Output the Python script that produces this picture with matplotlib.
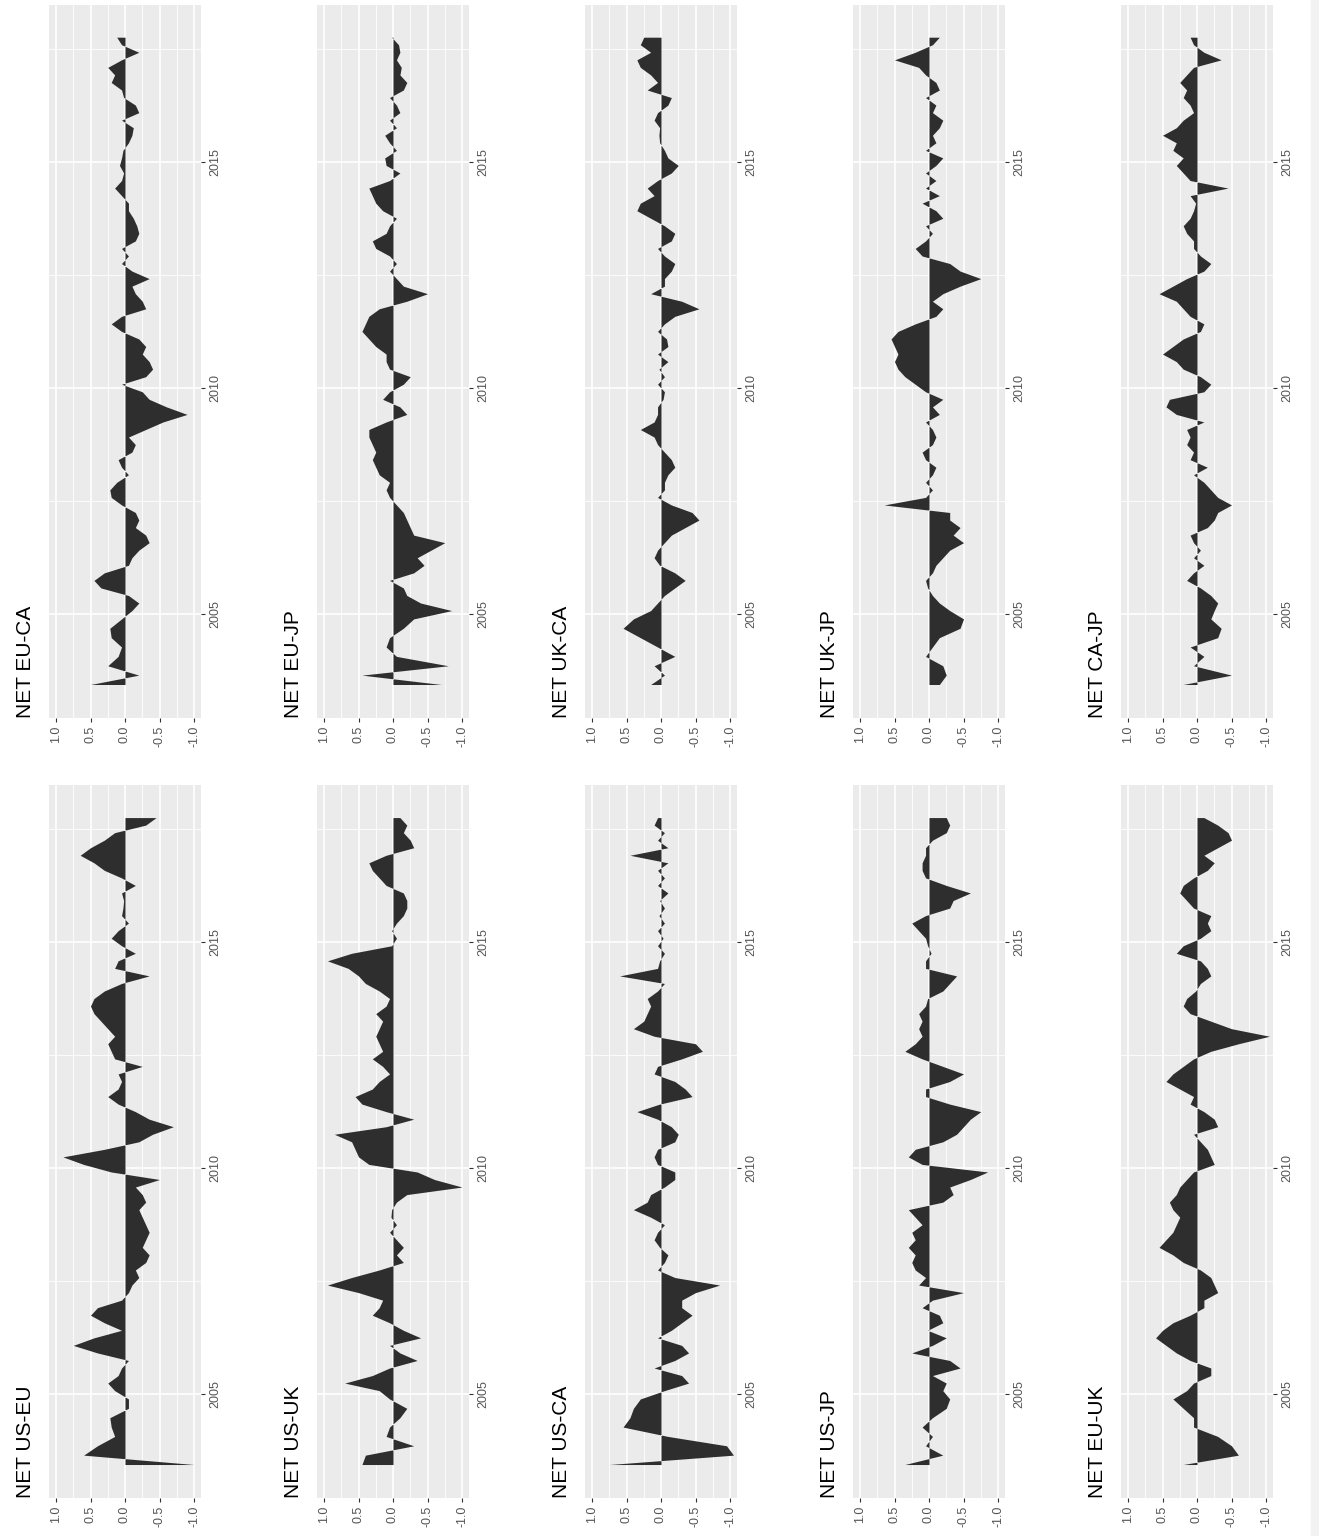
import matplotlib.pyplot as plt
import numpy as np

plt.rcParams['font.family'] = ['Liberation Sans', 'DejaVu Sans']

# time grid: roughly two-month steps from mid 2003 to late 2017
dates = np.concatenate([2003.45 + np.arange(8) * 0.207,
                        2005.0833 + np.arange(77) / 6])

eu_ca = [0.5, -0.2, 0.25, 0.1, 0.05, 0.2, 0.22, 0.05, -0.1, -0.2,
         -0.05, 0.35, 0.45, 0.3, -0.05, -0.1, -0.2, -0.35, -0.3, -0.15,
         -0.2, -0.15, 0.05, 0.2, 0.22, 0.12, -0.05, 0.05, 0.1, -0.1,
         -0.15, -0.05, -0.3, -0.55, -0.9, -0.6, -0.35, -0.25, 0.05, -0.3,
         -0.4, -0.35, -0.25, -0.3, -0.2, 0.05, 0.2, 0.05, -0.3, -0.25,
         -0.15, -0.1, -0.35, -0.1, 0.05, -0.05, 0.05, -0.15, -0.2, -0.17,
         -0.12, -0.05, -0.05, 0.05, 0.15, 0.05, 0.02, 0.08, 0.05, 0.03,
         -0.05, -0.1, -0.12, 0.05, -0.2, -0.15, 0.02, 0.05, 0.2, 0.15,
         0.25, 0.05, -0.2, 0.05, 0.12]
eu_jp = [-0.7, 0.45, -0.8, -0.05, 0.1, 0.05, -0.15, -0.3, -0.85, -0.4,
         -0.2, -0.15, 0.05, -0.3, -0.45, -0.35, -0.55, -0.75, -0.3, -0.25,
         -0.2, -0.15, -0.05, 0.05, 0.1, 0.05, 0.2, 0.25, 0.3, 0.25,
         0.3, 0.35, 0.35, 0.1, -0.2, -0.1, 0.15, 0.05, -0.15, -0.25,
         0.05, 0.1, 0.1, 0.25, 0.35, 0.45, 0.4, 0.35, 0.2, -0.2,
         -0.5, -0.15, -0.05, 0.05, -0.05, 0.05, 0.25, 0.3, 0.1, 0.05,
         -0.05, 0.15, 0.25, 0.3, 0.35, 0.05, -0.1, 0.1, 0.12, -0.05,
         0.05, 0.12, -0.05, 0.05, -0.1, -0.05, 0.05, -0.15, -0.2, -0.1,
         -0.12, -0.05, -0.1, -0.08, 0.02]
uk_ca = [0.15, -0.05, 0.1, -0.2, 0.05, 0.3, 0.55, 0.4, 0.15, 0.05,
         -0.05, -0.2, -0.35, -0.2, 0.02, 0.1, 0.05, -0.05, -0.15, -0.35,
         -0.55, -0.45, -0.15, 0.05, -0.05, -0.05, -0.1, -0.2, -0.15, -0.05,
         0.05, 0.1, 0.3, 0.1, 0.05, 0.05, -0.03, -0.05, 0.05, -0.05,
         0.03, -0.1, 0.05, -0.1, -0.08, 0.05, -0.05, -0.2, -0.55, -0.3,
         0.15, -0.05, -0.05, -0.15, -0.2, -0.05, 0.05, -0.15, -0.2, -0.05,
         0.15, 0.35, 0.3, 0.1, 0.2, 0.05, -0.15, -0.25, -0.1, -0.05,
         0.02, 0.03, 0.02, 0.1, 0.05, -0.1, -0.15, 0.2, 0.05, 0.15,
         0.3, 0.35, 0.15, 0.3, 0.25]
uk_jp = [-0.15, -0.25, -0.2, 0.05, -0.05, -0.15, -0.45, -0.5, -0.3, -0.15,
         -0.05, 0.02, 0.05, -0.05, -0.1, -0.2, -0.3, -0.5, -0.35, -0.45,
         -0.3, -0.3, 0.65, 0.05, -0.05, 0.05, -0.05, -0.1, 0.05, 0.1,
         -0.05, -0.1, -0.05, 0.05, -0.15, -0.05, -0.2, 0.05, 0.2, 0.35,
         0.45, 0.5, 0.45, 0.5, 0.55, 0.45, 0.2, -0.1, -0.2, -0.05,
         -0.2, -0.45, -0.75, -0.45, -0.3, 0.1, 0.2, 0.05, -0.05, 0.05,
         -0.2, -0.1, 0.1, -0.15, 0.05, -0.1, 0.05, -0.1, -0.2, 0.05,
         -0.1, -0.05, -0.15, -0.2, -0.05, -0.1, 0.05, -0.15, -0.1, 0.05,
         0.15, 0.5, 0.2, -0.05, -0.15]
ca_jp = [0.2, -0.5, 0.05, -0.1, 0.1, -0.3, -0.35, -0.2, -0.25, -0.3,
         -0.2, -0.05, 0.15, 0.05, -0.1, 0.05, -0.05, 0.05, 0.1, -0.15,
         -0.25, -0.3, -0.5, -0.3, -0.2, -0.1, 0.05, -0.15, 0.1, 0.05,
         0.15, 0.1, 0.15, -0.1, 0.3, 0.45, 0.4, -0.1, -0.2, -0.05,
         0.2, 0.3, 0.5, 0.35, 0.2, -0.05, -0.1, 0.1, 0.2, 0.3,
         0.55, 0.35, 0.15, -0.1, -0.2, -0.05, 0.05, 0.05, 0.15, 0.2,
         0.1, 0.05, 0.02, 0.1, -0.45, 0.1, 0.2, 0.3, 0.2, 0.35,
         0.3, 0.5, 0.3, 0.2, 0.05, 0.1, 0.2, 0.15, 0.25, 0.15,
         0.05, -0.35, -0.1, 0.05, 0.1]
us_eu = [-1.0, 0.6, 0.4, 0.15, 0.2, 0.22, -0.05, -0.05, 0.15, 0.25,
         0.1, 0.05, -0.05, 0.4, 0.75, 0.45, 0.05, 0.3, 0.5, 0.4,
         0.05, -0.05, -0.1, -0.2, -0.15, -0.3, -0.35, -0.25, -0.3, -0.35,
         -0.3, -0.25, -0.2, -0.3, -0.25, -0.15, -0.5, 0.2, 0.6, 0.9,
         0.3, -0.2, -0.4, -0.7, -0.35, -0.15, 0.1, 0.25, 0.1, 0.05,
         0.1, -0.25, 0.15, 0.2, 0.25, 0.15, 0.25, 0.35, 0.45, 0.5,
         0.45, 0.3, 0.05, -0.35, 0.15, 0.1, -0.15, 0.05, 0.2, 0.1,
         -0.05, 0.05, 0.03, 0.02, 0.05, -0.15, 0.05, 0.3, 0.45, 0.65,
         0.5, 0.3, 0.15, -0.3, -0.45]
us_uk = [0.45, 0.4, -0.3, 0.1, 0.05, -0.1, -0.2, 0.05, 0.2, 0.7,
         0.3, 0.05, -0.35, -0.1, 0.05, -0.4, -0.15, 0.05, 0.3, 0.2,
         0.15, 0.5, 0.95, 0.6, 0.2, -0.15, -0.05, -0.15, -0.05, 0.05,
         -0.05, 0.03, 0.02, -0.05, -0.2, -1.0, -0.6, -0.35, 0.35, 0.5,
         0.55, 0.6, 0.85, 0.1, -0.3, 0.1, 0.45, 0.55, 0.3, 0.2,
         0.05, 0.15, 0.3, 0.15, 0.2, 0.25, 0.2, 0.15, 0.25, 0.1,
         0.05, 0.2, 0.4, 0.5, 0.65, 0.95, 0.6, 0.02, -0.05, 0.02,
         -0.05, -0.15, -0.2, -0.2, -0.15, 0.1, 0.2, 0.3, 0.35, 0.1,
         -0.3, -0.25, -0.15, -0.2, -0.1]
us_ca = [0.75, -1.05, -0.95, -0.1, 0.55, 0.45, 0.4, 0.3, -0.05, -0.4,
         -0.3, 0.1, -0.2, -0.4, -0.3, 0.05, -0.15, -0.3, -0.45, -0.3,
         -0.3, -0.5, -0.85, -0.2, 0.05, -0.05, -0.1, 0.02, 0.1, 0.05,
         -0.05, 0.15, 0.4, 0.2, 0.15, -0.05, -0.2, -0.2, 0.05, 0.1,
         0.05, -0.2, -0.25, -0.15, 0.05, 0.35, 0.02, -0.45, -0.35, -0.2,
         0.1, 0.05, -0.3, -0.6, -0.5, 0.1, 0.4, 0.25, 0.2, 0.15,
         0.2, 0.05, -0.05, 0.6, 0.05, 0.02, -0.05, 0.05, -0.03, 0.05,
         -0.05, 0.03, -0.05, 0.02, -0.1, 0.05, -0.05, 0.05, -0.1, 0.45,
         -0.1, 0.05, -0.05, 0.1, 0.05]
us_jp = [0.35, -0.2, 0.05, -0.05, 0.1, -0.05, -0.25, -0.3, -0.2, -0.25,
         -0.05, -0.45, -0.3, 0.25, -0.05, -0.25, 0.02, -0.2, -0.15, 0.1,
         -0.05, -0.5, 0.15, 0.05, 0.2, 0.25, 0.2, 0.3, 0.2, 0.25,
         0.1, 0.2, 0.3, -0.2, -0.35, -0.3, -0.6, -0.85, 0.1, 0.3,
         0.2, -0.2, -0.4, -0.5, -0.6, -0.75, -0.3, 0.05, 0.05, -0.3,
         -0.5, -0.2, 0.1, 0.35, 0.2, 0.1, 0.15, 0.1, 0.15, 0.05,
         0.02, -0.2, -0.3, -0.4, 0.05, 0.05, -0.03, 0.02, 0.05, 0.15,
         0.25, 0.05, -0.3, -0.35, -0.6, -0.25, 0.05, 0.1, 0.1, 0.05,
         0.05, -0.05, -0.25, -0.3, -0.25]
eu_uk = [0.2, -0.6, -0.5, -0.3, 0.05, 0.05, 0.2, 0.35, 0.15, 0.05,
         -0.2, -0.2, 0.1, 0.3, 0.45, 0.6, 0.5, 0.35, 0.1, -0.1,
         -0.1, -0.3, -0.25, -0.2, -0.05, 0.2, 0.35, 0.55, 0.45, 0.35,
         0.3, 0.25, 0.35, 0.4, 0.3, 0.25, 0.15, 0.05, -0.25, -0.2,
         -0.15, -0.05, 0.05, -0.3, -0.25, -0.1, 0.1, 0.05, 0.25, 0.45,
         0.35, 0.2, 0.05, -0.2, -0.6, -1.05, -0.5, -0.2, 0.1, 0.2,
         0.15, 0.02, -0.05, -0.2, -0.15, -0.05, 0.3, 0.2, -0.05, -0.2,
         -0.15, -0.2, 0.05, 0.15, 0.25, 0.2, 0.05, -0.15, -0.25, -0.1,
         -0.3, -0.5, -0.45, -0.3, -0.1]

top_titles = ["NET EU-CA", "NET EU-JP", "NET UK-CA", "NET UK-JP", "NET CA-JP"]
top_series = [eu_ca, eu_jp, uk_ca, uk_jp, ca_jp]
bot_titles = ["NET US-EU", "NET US-UK", "NET US-CA", "NET US-JP", "NET EU-UK"]
bot_series = [us_eu, us_uk, us_ca, us_jp, eu_uk]

val_ticks = [1, 0.5, 0, -0.5, -1]
val_labels = ["1.0", "0.5", "0.0", "-0.5", "-1.0"]
year_ticks = [2005, 2010, 2015]

W, H = 1319, 1536
fig = plt.figure(figsize=(W / 100, H / 100), dpi=100)
fig.patches.append(plt.Rectangle((1311 / W, 0), 8 / W, 1, transform=fig.transFigure,
                                 color='#F2F2F2', zorder=0))


def panel(col, k, title, vals):
    top, bot = (4.6, 718) if col == 0 else (785, 1498)
    left = 49.1 + 268 * k
    ax = fig.add_axes([left / W, 1 - bot / H, 151.8 / W, (bot - top) / H])
    ax.set_facecolor('#EBEBEB')
    ax.fill_betweenx(dates, 0, vals, color='#2E2E2E', lw=0, zorder=3)
    ax.set_xlim(1.1, -1.1)
    ax.set_ylim(2002.71, 2018.47)
    ax.set_xticks(val_ticks)
    ax.set_xticklabels(val_labels, rotation=90)
    ax.set_xticks([0.75, 0.25, -0.25, -0.75], minor=True)
    ax.yaxis.tick_right()
    ax.set_yticks(year_ticks)
    ax.set_yticklabels([str(y) for y in year_ticks], rotation=90, va='center')
    ax.set_yticks([2007.5, 2012.5, 2017.5], minor=True)
    ax.grid(which='major', color='white', lw=1.2)
    ax.grid(which='minor', color='white', lw=0.6)
    ax.set_axisbelow(True)
    ax.tick_params(which='minor', length=0)
    ax.tick_params(which='major', length=2.75, width=0.8, color='#333333',
                   labelcolor='#555555', labelsize=9, pad=3)
    for s in ax.spines.values():
        s.set_visible(False)
    ax.text(-0.09, 0, title, transform=ax.transAxes, rotation=90,
            ha='right', va='bottom', fontsize=15, color='black')


for k in range(5):
    panel(0, k, top_titles[k], top_series[k])
    panel(1, k, bot_titles[k], bot_series[k])

fig.savefig('out.png', dpi=100, facecolor='white')
